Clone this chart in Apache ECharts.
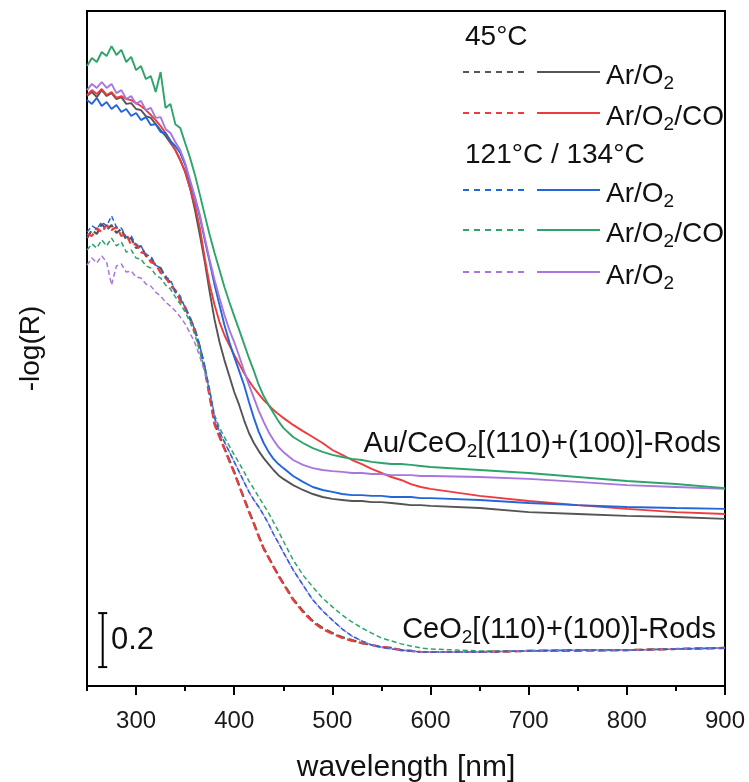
<!DOCTYPE html>
<html>
<head>
<meta charset="utf-8">
<script src="https://cdn.jsdelivr.net/npm/echarts@6/dist/echarts.min.js"></script>
<style>
html,body{margin:0;padding:0;background:#fff;}
#chart{width:749px;height:782px;}
</style>
</head>
<body>
<div id="chart"></div>
<script>
// wavelength grid (nm)
const wl = [250,255,260,265,270,275,280,285,290,295,300,305,310,315,320,325,330,335,340,345,
  350,355,360,365,370,375,380,385,390,395,400,405,410,415,420,425,430,435,440,445,450,
  460,470,480,490,500,510,520,530,540,550,560,570,580,590,600,
  650,700,750,800,850,900];

// Au/CeO2 rods (solid lines), -log(R)
const auGray45ArO2 = [2.185,2.200,2.181,2.207,2.185,2.196,2.174,2.181,2.156,2.159,
  2.137,2.133,2.111,2.104,2.081,2.059,2.037,2.011,1.985,1.948,
  1.904,1.844,1.763,1.670,1.570,1.459,1.356,1.274,1.207,1.148,
  1.089,1.041,0.985,0.937,0.900,0.870,0.844,0.822,0.800,0.781,0.767,
  0.744,0.726,0.711,0.700,0.693,0.689,0.685,0.685,0.681,0.681,0.678,0.674,0.670,0.670,0.667,
  0.659,0.644,0.637,0.630,0.626,0.619];
const auRed45ArO2CO = [2.189,2.207,2.193,2.211,2.189,2.200,2.178,2.185,2.174,2.170,
  2.159,2.148,2.133,2.115,2.096,2.074,2.048,2.019,1.985,1.948,
  1.904,1.844,1.781,1.696,1.585,1.485,1.411,1.348,1.300,1.263,
  1.226,1.193,1.159,1.130,1.104,1.081,1.059,1.041,1.022,1.007,0.993,
  0.967,0.944,0.922,0.900,0.874,0.856,0.837,0.822,0.804,0.789,0.774,0.763,0.748,0.737,0.730,
  0.704,0.685,0.670,0.656,0.644,0.637];
const auBlueHotArO2 = [2.170,2.156,2.178,2.148,2.163,2.137,2.152,2.126,2.137,2.111,
  2.122,2.096,2.107,2.078,2.081,2.052,2.048,2.019,2.000,1.974,
  1.930,1.867,1.807,1.737,1.652,1.570,1.485,1.411,1.337,1.274,
  1.219,1.167,1.115,1.052,0.993,0.941,0.900,0.867,0.841,0.822,0.807,
  0.778,0.756,0.737,0.726,0.719,0.711,0.707,0.707,0.704,0.704,0.700,0.700,0.700,0.696,0.696,
  0.689,0.678,0.670,0.663,0.659,0.656];
const auGreenHotArO2CO = [2.296,2.326,2.311,2.348,2.333,2.370,2.337,2.356,2.311,2.330,
  2.281,2.296,2.248,2.259,2.200,2.274,2.141,2.156,2.081,2.067,
  2.011,1.956,1.893,1.819,1.744,1.670,1.604,1.541,1.478,1.422,
  1.370,1.319,1.267,1.215,1.167,1.115,1.074,1.041,1.011,0.981,0.956,
  0.922,0.900,0.881,0.867,0.856,0.848,0.841,0.837,0.830,0.826,0.822,0.822,0.819,0.815,0.811,
  0.800,0.789,0.774,0.759,0.748,0.733];
const auPurpleHotArO2 = [2.207,2.230,2.215,2.237,2.215,2.230,2.196,2.207,2.174,2.185,
  2.156,2.167,2.133,2.141,2.104,2.107,2.063,2.048,2.015,1.985,
  1.937,1.874,1.811,1.744,1.659,1.578,1.504,1.437,1.374,1.319,
  1.274,1.222,1.167,1.115,1.067,1.019,0.978,0.941,0.911,0.885,0.867,
  0.837,0.819,0.807,0.800,0.796,0.793,0.789,0.789,0.785,0.785,0.781,0.781,0.781,0.778,0.778,
  0.774,0.767,0.756,0.744,0.737,0.730];

// CeO2 rods (dashed lines), -log(R)
const ceGray45ArO2 = [1.659,1.689,1.674,1.711,1.689,1.707,1.678,1.693,1.652,1.659,
  1.622,1.630,1.593,1.585,1.556,1.548,1.511,1.496,1.459,1.433,
  1.400,1.363,1.319,1.256,1.178,1.078,0.974,0.926,0.881,0.837,
  0.793,0.744,0.696,0.648,0.604,0.556,0.511,0.478,0.444,0.411,0.381,
  0.322,0.278,0.241,0.215,0.196,0.181,0.170,0.159,0.152,0.144,0.141,0.133,0.130,0.126,0.126,
  0.126,0.130,0.133,0.133,0.137,0.141];
const ceRed45ArO2CO = [1.674,1.667,1.696,1.681,1.707,1.689,1.700,1.667,1.674,1.633,
  1.637,1.607,1.600,1.570,1.563,1.530,1.519,1.481,1.467,1.426,
  1.404,1.359,1.315,1.252,1.170,1.070,0.967,0.922,0.878,0.833,
  0.789,0.741,0.693,0.644,0.600,0.552,0.507,0.474,0.441,0.407,0.378,
  0.319,0.274,0.237,0.211,0.193,0.178,0.167,0.159,0.152,0.144,0.141,0.133,0.130,0.126,0.126,
  0.126,0.130,0.130,0.133,0.137,0.141];
const ceBlueHotArO2 = [1.681,1.704,1.693,1.719,1.704,1.741,1.700,1.696,1.663,1.667,
  1.633,1.630,1.596,1.593,1.559,1.548,1.515,1.504,1.463,1.444,
  1.400,1.363,1.319,1.259,1.185,1.096,0.993,0.941,0.904,0.867,
  0.830,0.793,0.756,0.719,0.689,0.663,0.633,0.600,0.563,0.530,0.496,
  0.430,0.374,0.319,0.278,0.244,0.211,0.185,0.167,0.152,0.144,0.137,0.133,0.130,0.126,0.126,
  0.126,0.130,0.133,0.133,0.137,0.141];
const ceGreenHotArO2CO = [1.615,1.637,1.622,1.652,1.630,1.659,1.630,1.644,1.607,1.615,
  1.585,1.581,1.556,1.548,1.522,1.511,1.485,1.470,1.441,1.415,
  1.385,1.348,1.300,1.237,1.170,1.089,1.004,0.956,0.922,0.889,
  0.856,0.826,0.793,0.759,0.730,0.700,0.670,0.641,0.607,0.574,0.537,
  0.467,0.411,0.367,0.326,0.293,0.263,0.237,0.215,0.196,0.178,0.167,0.156,0.148,0.141,0.137,
  0.130,0.130,0.133,0.133,0.137,0.141];
const cePurpleHotArO2 = [1.559,1.585,1.567,1.593,1.570,1.485,1.556,1.563,1.533,1.537,
  1.515,1.511,1.489,1.481,1.459,1.444,1.422,1.407,1.389,1.367,
  1.341,1.307,1.270,1.219,1.163,1.096,0.993,0.941,0.904,0.867,
  0.830,0.793,0.756,0.719,0.689,0.663,0.633,0.600,0.563,0.530,0.496,
  0.430,0.374,0.319,0.278,0.244,0.211,0.185,0.167,0.152,0.144,0.137,0.133,0.130,0.126,0.126,
  0.126,0.130,0.133,0.133,0.137,0.141];

// axis ticks
const majorTicks = [300,400,500,600,700,800,900];
const minorTicks = [250,350,450,550,650,750,850];

// scale bar (0.2 in -log(R))
const scaleBarX = 266;
const scaleBarBase = 0.070;
const scaleBarLength = 0.2;
const scaleBarLabel = '0.2';

// legend texts
const legendHeaders = ['45°C', '121°C / 134°C'];
const legendLabels = ['Ar/O{sub|2}', 'Ar/O{sub|2}/CO', 'Ar/O{sub|2}', 'Ar/O{sub|2}/CO', 'Ar/O{sub|2}'];
const sampleLabels = ['Au/CeO{sub|2}[(110)+(100)]-Rods', 'CeO{sub|2}[(110)+(100)]-Rods'];

const C = {gray:'#555555', red:'#ee3b3b', blue:'#2466d9', green:'#2ea46a', purple:'#a876de'};
const FONT = 'Liberation Sans, Arial, sans-serif';

function pairs(ys){ return wl.map((x,i)=>[x, ys[i]]); }

function solid(name, ys, color){
  return {type:'line', name, data:pairs(ys), showSymbol:false, symbol:'none',
    lineStyle:{color, width:1.9}, itemStyle:{color}, z:3, animation:false};
}
function dashed(name, ys, color, width, dash){
  return {type:'line', name, data:pairs(ys), showSymbol:false, symbol:'none',
    lineStyle:{color, width, type:dash}, itemStyle:{color}, z:2, animation:false};
}

const rich = {sub:{fontSize:19, lineHeight:16, verticalAlign:'bottom', fontFamily:FONT, fill:'#111'}};

const legendColors = [C.gray, C.red, C.blue, C.green, C.purple];
const legendRowsY = [72, 113, 190, 230, 272];
const graphics = [];
graphics.push({type:'text', x:465, y:37, style:{text:legendHeaders[0], font:'28px '+FONT, fill:'#111', verticalAlign:'middle'}});
graphics.push({type:'text', x:465, y:155, style:{text:legendHeaders[1], font:'28px '+FONT, fill:'#111', verticalAlign:'middle'}});
legendRowsY.forEach((y,i)=>{
  graphics.push({type:'line', shape:{x1:463,y1:y,x2:529,y2:y}, style:{stroke:legendColors[i], lineWidth:1.8, lineDash:[6,5]}});
  graphics.push({type:'line', shape:{x1:537,y1:y,x2:600,y2:y}, style:{stroke:legendColors[i], lineWidth:1.8}});
  graphics.push({type:'text', x:606, y:y+4, style:{text:legendLabels[i], font:'28px '+FONT, fill:'#111', lineHeight:34, verticalAlign:'middle', rich}});
});
graphics.push({type:'text', x:721, y:444, style:{text:sampleLabels[0], font:'29px '+FONT, fill:'#111', lineHeight:34, align:'right', verticalAlign:'middle', rich}});
graphics.push({type:'text', x:716, y:630, style:{text:sampleLabels[1], font:'29px '+FONT, fill:'#111', lineHeight:34, align:'right', verticalAlign:'middle', rich}});
graphics.push({type:'text', x:111, y:640, style:{text:scaleBarLabel, font:'31px '+FONT, fill:'#111', verticalAlign:'middle'}});

const chart = echarts.init(document.getElementById('chart'), null, {renderer:'canvas'});
chart.setOption({
  animation:false,
  backgroundColor:'#fff',
  grid:{left:87, right:24, top:11, bottom:96, outerBoundsMode:'none', containLabel:false,
    show:true, borderColor:'#000', borderWidth:2, backgroundColor:'transparent'},
  xAxis:[{
    type:'value', min:250, max:900,
    axisLine:{lineStyle:{color:'#000', width:2}},
    axisTick:{customValues:majorTicks, length:9, lineStyle:{color:'#000', width:2}},
    axisLabel:{customValues:majorTicks, fontSize:24, color:'#1a1a1a', margin:23, fontFamily:FONT},
    splitLine:{show:false},
    name:'wavelength [nm]', nameLocation:'middle', nameGap:67,
    nameTextStyle:{fontSize:30, color:'#111', fontFamily:FONT}
  },{
    type:'value', min:250, max:900, position:'bottom',
    axisLine:{show:false},
    axisTick:{customValues:minorTicks, length:5, lineStyle:{color:'#000', width:2}},
    axisLabel:{show:false},
    splitLine:{show:false}
  }],
  yAxis:{
    type:'value', min:0, max:2.5,
    axisLine:{show:true, lineStyle:{color:'#000', width:2}},
    axisTick:{show:false}, axisLabel:{show:false}, splitLine:{show:false},
    name:'-log(R)', nameLocation:'middle', nameGap:42,
    nameTextStyle:{fontSize:28, color:'#111', fontFamily:FONT}
  },
  series:[
    dashed('CeO2 45°C Ar/O2', ceGray45ArO2, C.gray, 2.2, [8,4]),
    dashed('CeO2 45°C Ar/O2/CO', ceRed45ArO2CO, C.red, 2.2, [8,4]),
    dashed('CeO2 hot Ar/O2/CO', ceGreenHotArO2CO, C.green, 1.5, [5,3]),
    dashed('CeO2 hot Ar/O2', cePurpleHotArO2, C.purple, 1.5, [5,3]),
    dashed('CeO2 hot Ar/O2 (blue)', ceBlueHotArO2, C.blue, 1.5, [5,3]),
    solid('Au 45°C Ar/O2', auGray45ArO2, C.gray),
    solid('Au 45°C Ar/O2/CO', auRed45ArO2CO, C.red),
    solid('Au hot Ar/O2 (blue)', auBlueHotArO2, C.blue),
    solid('Au hot Ar/O2', auPurpleHotArO2, C.purple),
    solid('Au hot Ar/O2/CO', auGreenHotArO2CO, C.green),
    {type:'line', name:'scale bar', data:[[scaleBarX, scaleBarBase],[scaleBarX, scaleBarBase+scaleBarLength]],
      symbol:'rect', symbolSize:[9,2], showSymbol:true, lineStyle:{color:'#000', width:2},
      itemStyle:{color:'#000'}, z:5, animation:false}
  ],
  graphic:graphics
});
</script>
</body>
</html>
